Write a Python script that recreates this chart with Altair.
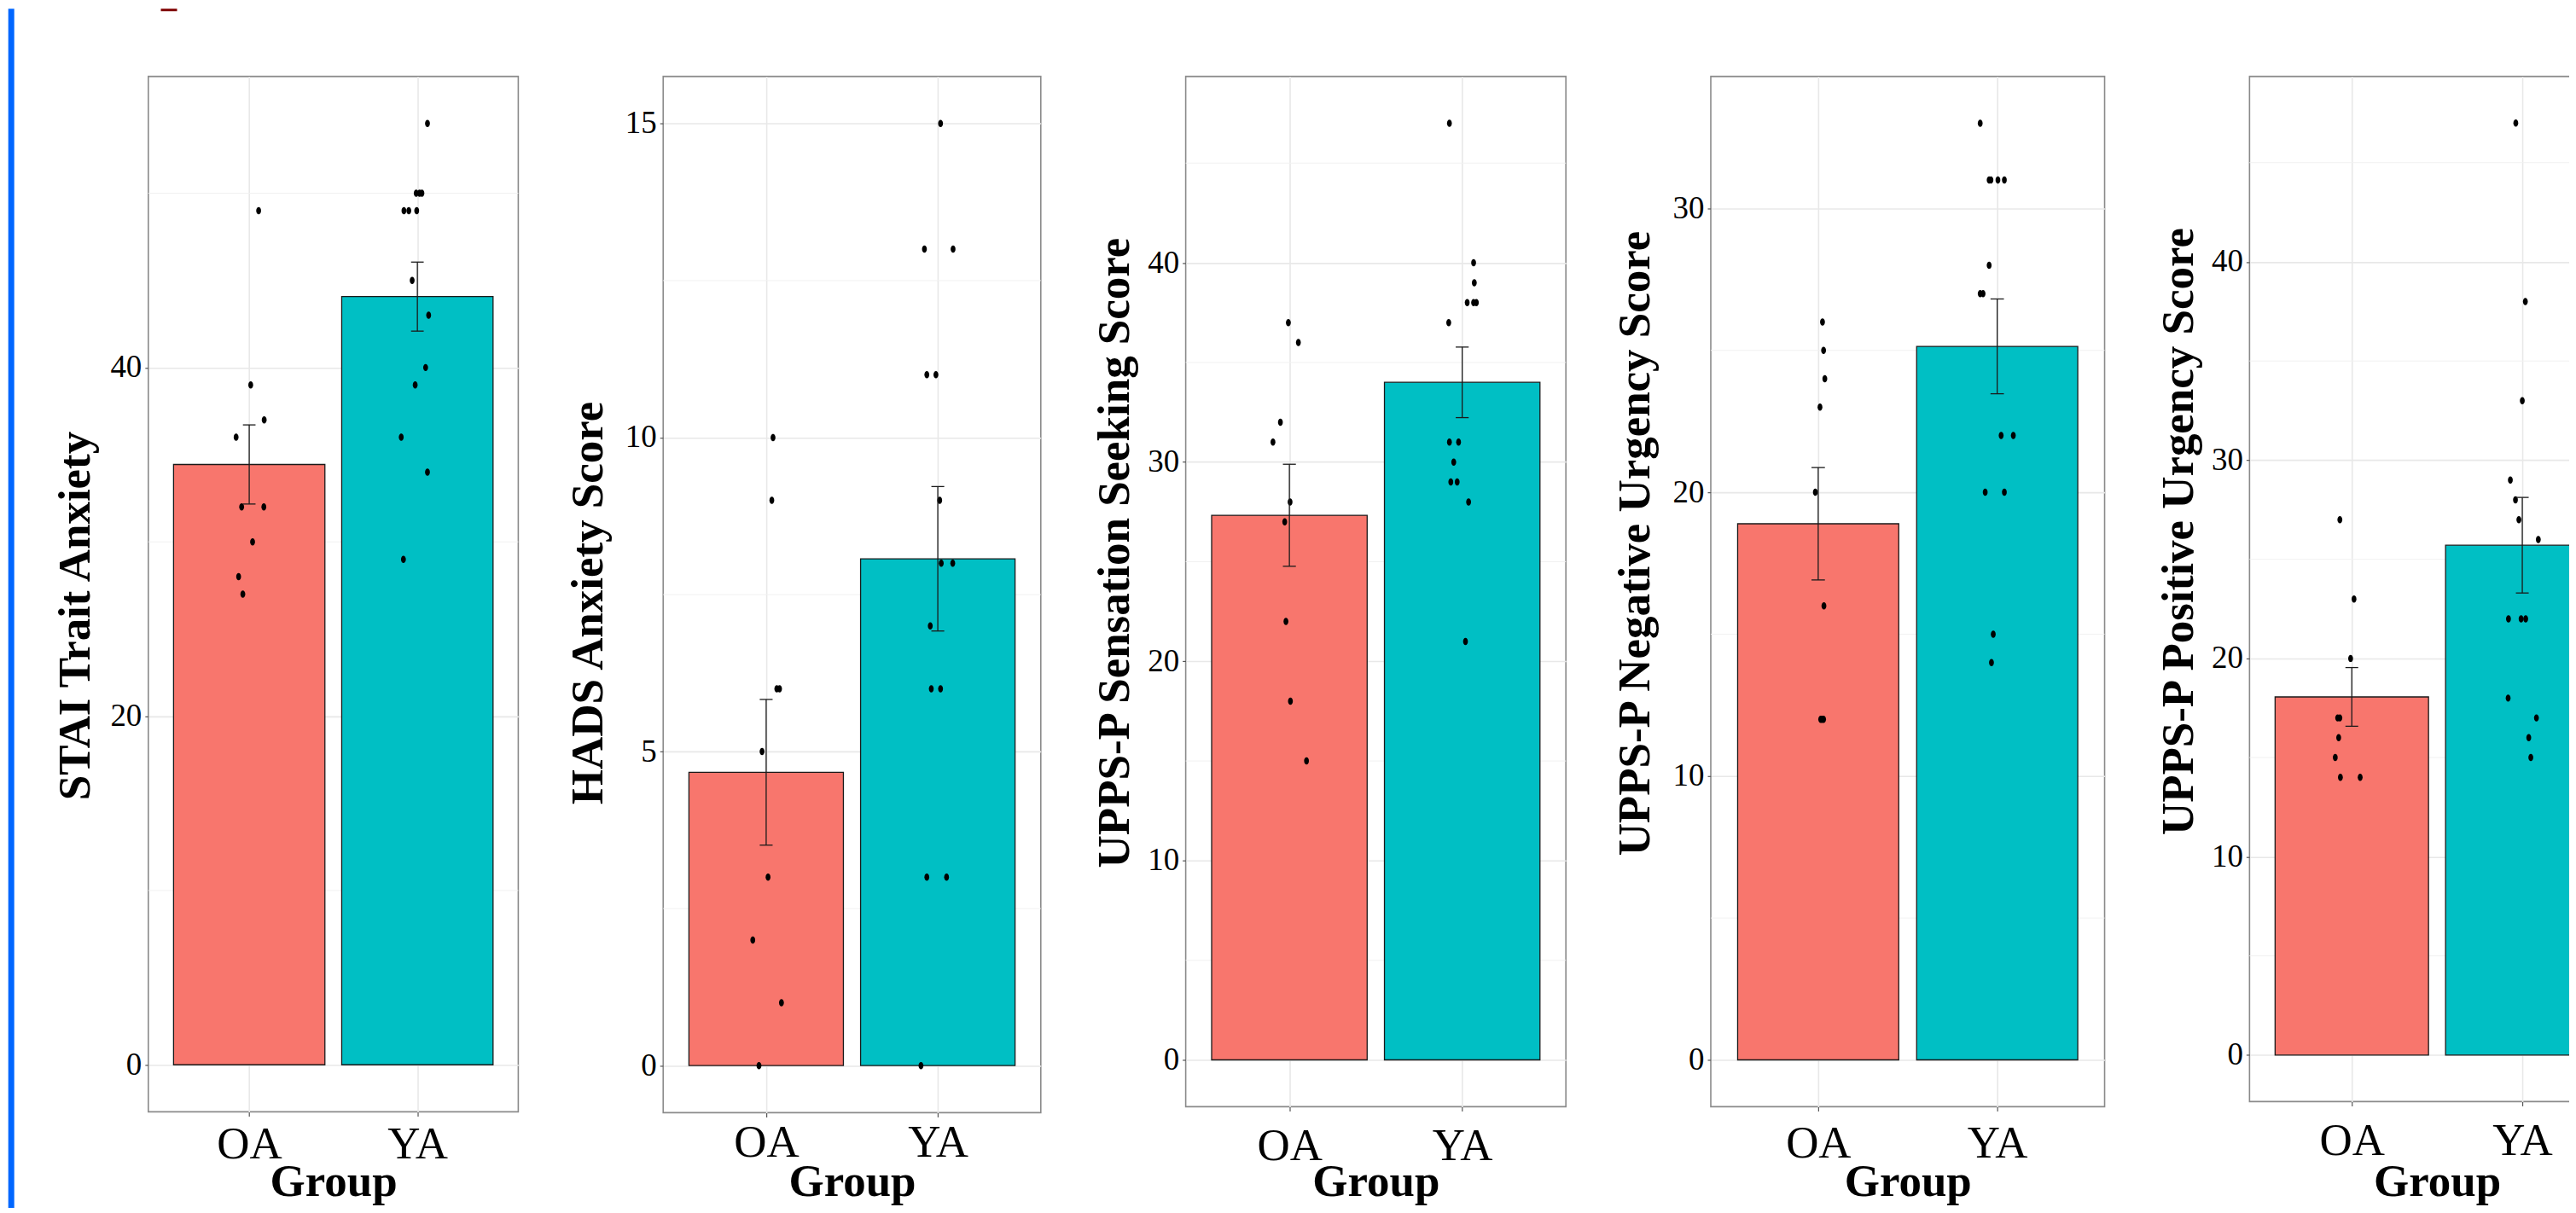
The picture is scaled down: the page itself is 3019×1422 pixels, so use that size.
import altair as alt
import pandas as pd

# ---------------- data ----------------
groups = ["OA", "YA"]
group_pos = [1, 2]
bar_colors = ["#F8766D", "#00BFC4"]
x_title = "Group"

y_titles = [
    "STAI Trait Anxiety",
    "HADS Anxiety Score",
    "UPPS-P Sensation Seeking Score",
    "UPPS-P Negative Urgency Score",
    "UPPS-P Positive Urgency Score",
]

# STAI Trait Anxiety
stai_oa = [49, 39, 37, 36, 32, 32, 30, 28, 27]
stai_oa_jit = [0.056, 0.009, 0.089, -0.078, -0.045, 0.087, 0.020, -0.063, -0.038]
stai_ya = [54, 50, 50, 50, 49, 49, 49, 45, 43, 40, 39, 36, 34, 29]
stai_ya_jit = [0.060, -0.007, 0.013, 0.027, -0.080, -0.051, -0.004, -0.031, 0.067, 0.049, -0.013, -0.096, 0.060, -0.083]
stai_mean = [34.44, 44.07]
stai_se = [2.27, 1.98]

# HADS Anxiety
hads_oa = [10, 9, 6, 6, 5, 3, 2, 1, 0]
hads_oa_jit = [0.040, 0.033, 0.062, 0.078, -0.024, 0.011, -0.078, 0.089, -0.042]
hads_ya = [15, 13, 13, 11, 11, 9, 8, 8, 7, 6, 6, 3, 3, 0]
hads_ya_jit = [0.016, -0.078, 0.089, -0.064, -0.011, 0.011, 0.020, 0.087, -0.044, -0.038, 0.016, -0.064, 0.051, -0.098]
hads_mean = [4.67, 8.07]
hads_se = [1.16, 1.15]

# UPPS-P Sensation Seeking
ss_oa = [37, 36, 32, 31, 28, 27, 22, 18, 15]
ss_oa_jit = [-0.006, 0.052, -0.052, -0.095, 0.004, -0.027, -0.020, 0.006, 0.099]
ss_ya = [47, 40, 39, 38, 38, 38, 37, 31, 31, 30, 29, 29, 28, 21]
ss_ya_jit = [-0.074, 0.066, 0.070, 0.029, 0.066, 0.082, -0.078, -0.074, -0.021, -0.049, -0.066, -0.029, 0.037, 0.019]
ss_mean = [27.33, 34.0]
ss_se = [2.56, 1.77]

# UPPS-P Negative Urgency
nu_oa = [26, 25, 24, 23, 20, 16, 12, 12, 12]
nu_oa_jit = [0.024, 0.030, 0.037, 0.010, -0.016, 0.032, 0.014, 0.030, 0.022]
nu_ya = [33, 31, 31, 31, 31, 28, 27, 27, 22, 22, 20, 20, 15, 14]
nu_ya_jit = [-0.095, -0.045, -0.035, 0.004, 0.040, -0.045, -0.095, -0.079, 0.022, 0.090, -0.067, 0.040, -0.022, -0.032]
nu_mean = [18.89, 25.14]
nu_se = [1.98, 1.67]

# UPPS-P Positive Urgency
pu_oa = [27, 23, 20, 17, 17, 16, 15, 14, 14]
pu_oa_jit = [-0.070, 0.013, -0.007, -0.083, -0.070, -0.077, -0.097, -0.067, 0.049]
pu_ya = [47, 38, 33, 29, 28, 27, 26, 22, 22, 22, 18, 17, 16, 15]
pu_ya_jit = [-0.038, 0.018, 0.000, -0.070, -0.040, -0.020, 0.094, -0.081, -0.007, 0.020, -0.083, 0.083, 0.038, 0.050]
pu_mean = [18.06, 25.71]
pu_se = [1.48, 2.41]

y_ticks = [[0, 20, 40], [0, 5, 10, 15], [0, 10, 20, 30, 40], [0, 10, 20, 30], [0, 10, 20, 30, 40]]
y_minor = [[10, 30, 50], [2.5, 7.5, 12.5], [5, 15, 25, 35, 45], [5, 15, 25], [5, 15, 25, 35, 45]]
y_domains = [[-2.7, 56.7], [-0.75, 15.75], [-2.35, 49.35], [-1.65, 34.65], [-2.35, 49.35]]

point_sets = [
    (stai_oa, stai_oa_jit, stai_ya, stai_ya_jit),
    (hads_oa, hads_oa_jit, hads_ya, hads_ya_jit),
    (ss_oa, ss_oa_jit, ss_ya, ss_ya_jit),
    (nu_oa, nu_oa_jit, nu_ya, nu_ya_jit),
    (pu_oa, pu_oa_jit, pu_ya, pu_ya_jit),
]
means = [stai_mean, hads_mean, ss_mean, nu_mean, pu_mean]
ses = [stai_se, hads_se, ss_se, nu_se, pu_se]

# ---------------- layout / style ----------------
W = [434, 443, 446, 462, 440]
H = [1215, 1216, 1209, 1209, 1203]
title_x = [-58.7, -61.1, -56.3, -62.0, -56.0]
title_y = [632.5, 617.5, 558.5, 547.5, 533.5]
xlab_pad = [7.1, 4.6, 15.0, 12.0, 15.0]
xtitle_y = [56.3, 55.3, 62.3, 62.3, 68.3]

FONT = "Liberation Serif"
ELLIPSE = "M -0.67 0 A 0.67 1 0 1 0 0.67 0 A 0.67 1 0 1 0 -0.67 0 Z"
GRID = "#e8e8e8"
INK = "#1a1a1a"


def make_panel(i):
    oa_v, oa_j, ya_v, ya_j = point_sets[i]
    pts = pd.DataFrame({
        "group": [groups[0]] * len(oa_v) + [groups[1]] * len(ya_v),
        "pos": [group_pos[0]] * len(oa_v) + [group_pos[1]] * len(ya_v),
        "jit": list(oa_j) + list(ya_j),
        "value": list(oa_v) + list(ya_v),
    })
    summ = pd.DataFrame({"group": groups, "pos": group_pos, "mean": means[i], "se": ses[i]})
    minor = pd.DataFrame({"v": y_minor[i]})
    w, h = W[i], H[i]

    xs = alt.Scale(domain=[0.4, 2.6], nice=False, zero=False)
    ys = alt.Scale(domain=y_domains[i], nice=False, zero=False)

    yaxis = alt.Axis(
        values=y_ticks[i], title=y_titles[i], grid=True, gridColor=GRID, gridWidth=1.6,
        domain=False, tickSize=4, tickColor="#555555", tickWidth=1.2,
        labelFont=FONT, labelFontSize=37, labelColor="black", labelPadding=4,
        titleFont=FONT, titleFontSize=53, titleFontWeight="bold", titleColor="black",
        titleX=title_x[i], titleY=title_y[i],
    )
    xaxis = alt.Axis(
        values=group_pos,
        labelExpr=f"datum.value == {group_pos[0]} ? '{groups[0]}' : '{groups[1]}'",
        title=x_title, grid=True, gridColor=GRID, gridWidth=1.6,
        domain=False, tickSize=5, tickColor="#555555", tickWidth=1.2,
        labelFont=FONT, labelFontSize=53, labelColor="black", labelAngle=0,
        labelPadding=xlab_pad[i],
        titleFont=FONT, titleFontSize=53, titleFontWeight="bold", titleColor="black",
        titleY=xtitle_y[i],
    )

    def X(f):
        return alt.X(f, scale=xs, axis=xaxis)

    def Y(f):
        return alt.Y(f, scale=ys, axis=yaxis)

    grid_minor = alt.Chart(minor).mark_rule(color="#f1f1f1", strokeWidth=1).encode(
        y=Y("v:Q"),
        x=alt.value(0),
        x2=alt.value(w),
    )
    bars = alt.Chart(summ).transform_calculate(
        x0="datum.pos - 0.45", x1="datum.pos + 0.45", zero="0"
    ).mark_rect(stroke=INK, strokeWidth=1.3).encode(
        x=X("x0:Q"),
        x2="x1:Q",
        y=Y("mean:Q"),
        y2="zero:Q",
        color=alt.Color("group:N", scale=alt.Scale(domain=groups, range=bar_colors), legend=None),
    )
    dots = alt.Chart(pts).transform_calculate(xp="datum.pos + datum.jit").mark_point(
        shape=ELLIPSE, filled=True, size=72, color="black", opacity=1, strokeWidth=0
    ).encode(
        x=X("xp:Q"),
        y=Y("value:Q"),
    )
    err = alt.Chart(summ).transform_calculate(
        lo="datum.mean - datum.se", hi="datum.mean + datum.se"
    ).mark_rule(color=INK, strokeWidth=1.3).encode(
        x=X("pos:Q"),
        y=Y("lo:Q"),
        y2="hi:Q",
    )
    caps = alt.Chart(summ).transform_calculate(
        lo="datum.mean - datum.se", hi="datum.mean + datum.se",
        c0="datum.pos - 0.0375", c1="datum.pos + 0.0375",
    ).transform_fold(["lo", "hi"], as_=["end", "yv"]).mark_rule(color=INK, strokeWidth=1.3).encode(
        x=X("c0:Q"),
        x2="c1:Q",
        y=Y("yv:Q"),
    )
    layers = [grid_minor, bars, dots, err, caps]
    if i == 0:
        deco = pd.DataFrame({"k": [0]})
        blue = alt.Chart(deco).mark_rect(color="#0066FF").encode(
            x=alt.value(-164.3), x2=alt.value(-157.3), y=alt.value(-79.5), y2=alt.value(1360)
        )
        red = alt.Chart(deco).mark_rect(color="#800000").encode(
            x=alt.value(14.7), x2=alt.value(33.7), y=alt.value(-79.5), y2=alt.value(-76.5)
        )
        layers += [blue, red]
    return alt.layer(*layers).properties(width=w, height=h)


panels = [make_panel(i) for i in range(5)]

chart = alt.hconcat(*panels, spacing=170, bounds="flush").resolve_scale(
    x="independent", y="independent"
).properties(
    padding={"left": 0, "top": 0, "right": -67, "bottom": -34}
).configure_view(stroke="#8a8a8a", strokeWidth=1.6)

chart.save("out.html", embed_options={"renderer": "svg", "actions": False})
